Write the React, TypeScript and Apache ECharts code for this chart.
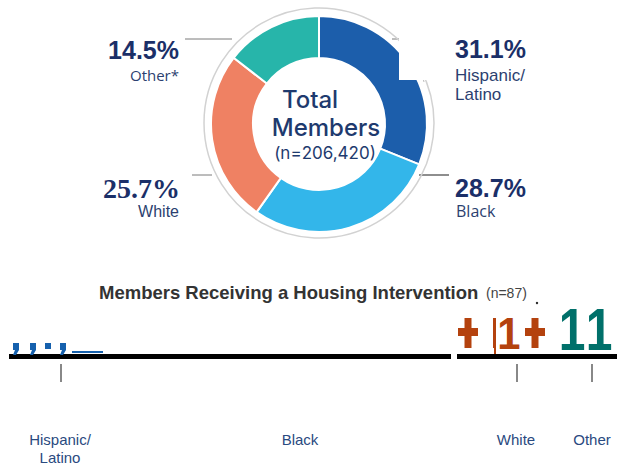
import React, { useEffect, useRef } from "react";
import * as echarts from "echarts";

// Donut data (share of total members, %)
const groups = ["Hispanic/Latino", "Black", "White", "Other"];
const shares = [31.1, 28.7, 25.7, 14.5];
const groupLabels = ["Hispanic/\nLatino", "Black", "White", "Other*"];
const sliceColors = ["#1c5eab", "#33b6ea", "#ef8163", "#27b5aa"];
const totalMembers = "206,420";

// Lower panel
const housingTitle = "Members Receiving a Housing Intervention";
const housingN = "(n=87)";
const housingCategories = ["Hispanic/\nLatino", "Black", "White", "Other"];

const NAVY = "#1b2f68";
const SUB = "#2c3f70";
const BLUE = "#1560ad";
const ORANGE = "#b4420e";
const TEAL = "#00706a";

export default function App() {
  const ref = useRef<HTMLDivElement>(null);
  useEffect(() => {
    if (!ref.current) return;
    const chart = echarts.init(ref.current, null, { renderer: "svg" });
    const pct = (v: number) => v.toFixed(1) + "%";
    const bigSans = "bold 25px 'Liberation Sans', Arial, sans-serif";
    const bigSerif = "bold 28px 'Liberation Serif', 'Times New Roman', serif";
    const subFont = "16px 'Liberation Sans', Arial, sans-serif";
    const centerFont = "500 24px Inter, Lato, sans-serif";

    const t = (x: number, y: number, text: string, font: string, fill: string, align = "left", extra: any = {}) => ({
      type: "text",
      x,
      y,
      ...extra,
      style: { text, font, fill, textAlign: align, textVerticalAlign: "middle" },
    });
    const ln = (x1: number, y1: number, x2: number, y2: number, stroke: string, w = 1) => ({
      type: "line",
      shape: { x1, y1, x2, y2 },
      style: { stroke, lineWidth: w },
    });
    const rc = (x: number, y: number, width: number, height: number, fill: string) => ({
      type: "rect",
      shape: { x, y, width, height },
      style: { fill },
    });
    const comma = (x: number) => ({
      type: "polygon",
      shape: {
        points: [
          [x, 343],
          [x + 6, 343],
          [x + 6, 350],
          [x + 3, 355],
          [x, 355],
          [x + 2, 350],
          [x, 350],
        ],
      },
      style: { fill: BLUE },
    });
    const plus = (cx: number) => [rc(cx - 3.5, 318, 7, 30, ORANGE), rc(cx - 10, 328, 20, 8, ORANGE)];

    const bottomX = [60, 300, 516, 592];
    const tickX = [61, 517, 592];

    chart.setOption({
      animation: false,
      series: [
        {
          type: "pie",
          center: [319, 124],
          radius: [66, 108],
          startAngle: 90,
          clockwise: true,
          silent: true,
          label: { show: false },
          labelLine: { show: false },
          itemStyle: { borderColor: "#ffffff", borderWidth: 2 },
          data: groups.map((g, i) => ({ name: g, value: shares[i], itemStyle: { color: sliceColors[i] } })),
        },
      ],
      graphic: [
        // outer ring
        {
          type: "circle",
          shape: { cx: 319, cy: 123, r: 115 },
          style: { fill: "none", stroke: "#d2d2d2", lineWidth: 1.5 },
          z: 1,
        },
        // notch artefact in top-right
        { ...rc(399, 36, 36, 44, "#ffffff"), z: 10 },
        ln(419, 64, 424, 82, "#bdbdbd", 1),
        // leader lines
        ln(185, 39, 232, 39, "#7a7a7a", 1),
        ln(392, 39, 400, 39, "#7a7a7a", 1),
        ln(192, 175, 212, 175, "#7a7a7a", 1),
        ln(419, 175, 449, 175, "#444444", 1.2),
        // centre text
        t(310, 99, "Total", centerFont, "#1e3a6e", "center"),
        t(326, 127, "Members", centerFont, "#1e3a6e", "center"),
        t(325, 153, "(n=" + totalMembers + ")", "17px Inter, Lato, sans-serif", "#1e3a6e", "center"),
        // labels
        t(179, 50, pct(shares[3]), bigSans, NAVY, "right"),
        t(179, 75, groupLabels[3], "15px 'Open Sans', sans-serif", SUB, "right"),
        t(455, 49, pct(shares[0]), bigSans, NAVY, "left"),
        t(455, 75, groupLabels[0].split("\n")[0], "17px 'Liberation Sans', Arial, sans-serif", SUB, "left"),
        t(455, 94, groupLabels[0].split("\n")[1], "17px 'Liberation Sans', Arial, sans-serif", SUB, "left"),
        t(180, 188, pct(shares[2]), bigSerif, NAVY, "right"),
        t(179, 211, groupLabels[2], subFont, SUB, "right"),
        t(455, 188, pct(shares[1]), bigSans, NAVY, "left"),
        t(456, 211, groupLabels[1], "16px 'Open Sans', sans-serif", SUB, "left"),
        // lower panel title
        t(99, 292, housingTitle, "bold 18.5px 'Liberation Sans', Arial, sans-serif", "#333333", "left"),
        t(486, 293, housingN, "14px 'Liberation Sans', Arial, sans-serif", "#444444", "left"),
        { type: "circle", shape: { cx: 537, cy: 303, r: 1.2 }, style: { fill: "#222" } },
        // baseline
        rc(9, 354, 442, 5, "#000"),
        rc(457, 354, 160, 5, "#000"),
        // blue glyph remnants
        comma(13),
        comma(30),
        rc(45, 343, 6, 6, BLUE),
        comma(60),
        rc(72, 351, 31, 2, BLUE),
        // orange glyphs
        ...plus(468),
        rc(493, 318, 3, 30, ORANGE),
        rc(494, 348, 2, 6, ORANGE),
        t(509, 334, "1", "bold 44px 'Liberation Sans', Arial, sans-serif", ORANGE, "center", { scaleX: 0.95 }),
        ...plus(535),
        // teal digits
        t(572, 330, "1", "bold 60px 'Liberation Sans', Arial, sans-serif", TEAL, "center", { scaleX: 0.8 }),
        t(599, 330, "1", "bold 60px 'Liberation Sans', Arial, sans-serif", TEAL, "center", { scaleX: 0.8 }),
        // ticks
        ...tickX.map((x) => ln(x, 364, x, 382, "#888888", 2)),
        // category labels
        ...housingCategories.map((c, i) => ({
          type: "text",
          x: bottomX[i],
          y: 430,
          style: {
            text: c,
            font: "15px 'Liberation Sans', Arial, sans-serif",
            fill: "#2a4a80",
            textAlign: "center",
            textVerticalAlign: "top",
            lineHeight: 18,
          },
        })),
      ],
    });
    return () => chart.dispose();
  }, []);
  return (
    <div
      ref={ref}
      style={{ position: "fixed", left: 0, top: 0, width: 623, height: 466, background: "#ffffff" }}
    />
  );
}
